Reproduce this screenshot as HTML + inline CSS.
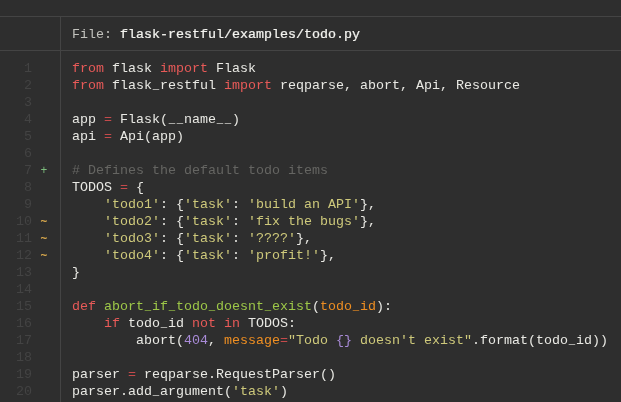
<!DOCTYPE html>
<html><head><meta charset="utf-8">
<style>
html,body{margin:0;padding:0;}
body{width:621px;height:402px;background:#2e2e2e;overflow:hidden;position:relative;
font-family:"Liberation Mono",monospace;font-size:13.333px;color:#e9e9e4;}
.hl{position:absolute;left:0;width:621px;height:1px;background:#444;}
.vl{position:absolute;left:60px;top:16px;width:1px;height:386px;background:#444;}
pre{margin:0;position:absolute;will-change:transform;font-family:"Liberation Mono",monospace;font-size:13.333px;line-height:17px;white-space:pre;}
#code{left:72px;top:60px;}
#hdr{left:72px;top:26px;color:#c2c2bd;}
#nums{left:0;top:60px;color:#434343;width:32px;text-align:right;}
#marks{left:40px;top:60px;}
.k{color:#e85a58}.e{color:#c44a4b}.s{color:#cec97b}.n{color:#a98bd8}.c{color:#656562}.f{color:#9dc748}.p{color:#ee8e22}
.g{color:#7dbd7d}.o{color:#dcab4e;-webkit-text-stroke:0.3px #dcab4e}.u{display:inline-block;font-style:normal;transform:translateY(-1px) scaleX(.8);}.g,.o{display:inline-block;transform:scaleX(.85);}
</style></head><body>
<div class="hl" style="top:16px"></div>
<div class="hl" style="top:50px"></div>
<div class="vl"></div>
<pre id="hdr">File: <b style="font-weight:normal;color:#f4f4f0;-webkit-text-stroke:0.22px #f4f4f0">flask-restful/examples/todo.py</b></pre>
<pre id="nums">1
2
3
4
5
6
7
8
9
10
11
12
13
14
15
16
17
18
19
20</pre>
<pre id="marks">






<span class="g">+</span>


<span class="o">~</span>
<span class="o">~</span>
<span class="o">~</span></pre>
<pre id="code"><span class="k">from</span> flask <span class="k">import</span> Flask
<span class="k">from</span> flask<i class="u">_</i>restful <span class="k">import</span> reqparse, abort, Api, Resource

app <span class="e">=</span> Flask(<i class="u">_</i><i class="u">_</i>name<i class="u">_</i><i class="u">_</i>)
api <span class="e">=</span> Api(app)

<span class="c"># Defines the default todo items</span>
TODOS <span class="e">=</span> {
    <span class="s">'todo1'</span>: {<span class="s">'task'</span>: <span class="s">'build an API'</span>},
    <span class="s">'todo2'</span>: {<span class="s">'task'</span>: <span class="s">'fix the bugs'</span>},
    <span class="s">'todo3'</span>: {<span class="s">'task'</span>: <span class="s">'????'</span>},
    <span class="s">'todo4'</span>: {<span class="s">'task'</span>: <span class="s">'profit!'</span>},
}

<span class="k">def</span> <span class="f">abort<i class="u">_</i>if<i class="u">_</i>todo<i class="u">_</i>doesnt<i class="u">_</i>exist</span>(<span class="p">todo<i class="u">_</i>id</span>):
    <span class="k">if</span> todo<i class="u">_</i>id <span class="k">not</span> <span class="k">in</span> TODOS:
        abort(<span class="n">404</span>, <span class="p">message</span><span class="e">=</span><span class="s">"Todo </span><span class="n">{}</span><span class="s"> doesn't exist"</span>.format(todo<i class="u">_</i>id))

parser <span class="e">=</span> reqparse.RequestParser()
parser.add<i class="u">_</i>argument(<span class="s">'task'</span>)</pre>
</body></html>
